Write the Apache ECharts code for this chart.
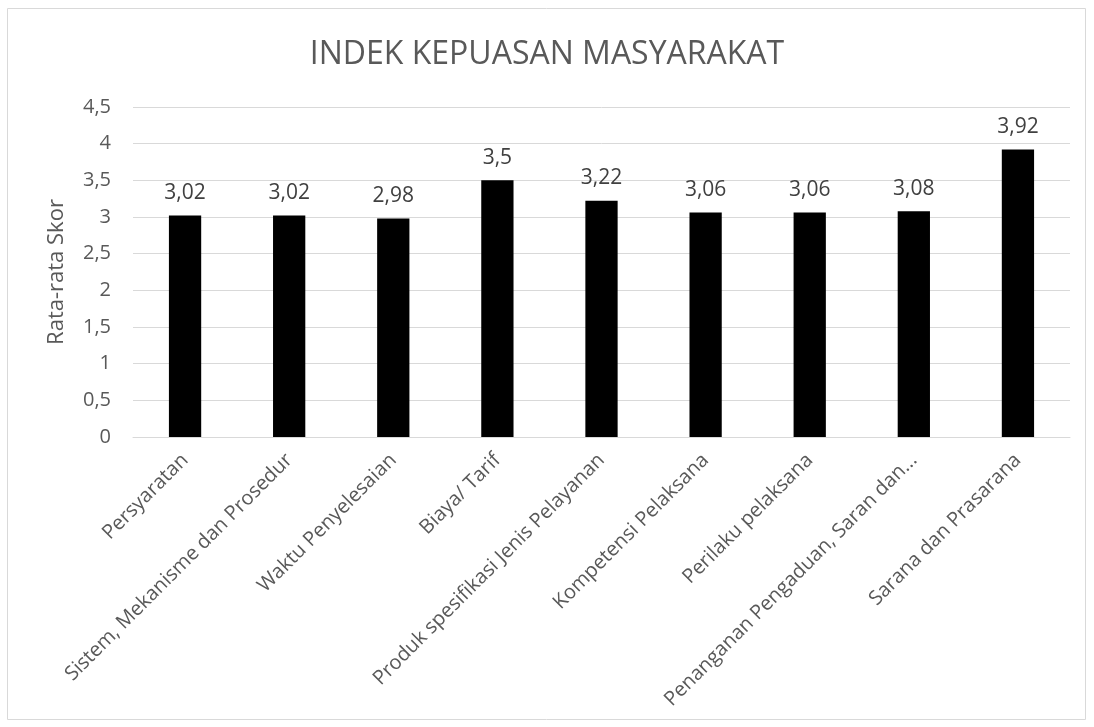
<!DOCTYPE html>
<html>
<head>
<meta charset="utf-8">
<script src="https://cdn.jsdelivr.net/npm/echarts@6/dist/echarts.min.js"></script>
<style>
  html, body { margin: 0; padding: 0; background: #fff; }
  #grafico_ikm { width: 1094px; height: 727px; }
</style>
</head>
<body>
<div id="grafico_ikm"></div>
<script>
var kategori = [
  "Persyaratan",
  "Sistem, Mekanisme dan Prosedur",
  "Waktu Penyelesaian",
  "Biaya/ Tarif",
  "Produk spesifikasi Jenis Pelayanan",
  "Kompetensi Pelaksana",
  "Perilaku pelaksana",
  "Penanganan Pengaduan, Saran dan...",
  "Sarana dan Prasarana"
];
var skor = [3.02, 3.02, 2.98, 3.5, 3.22, 3.06, 3.06, 3.08, 3.92];

var fuente = "'Open Sans', 'Noto Sans', sans-serif";
var koma = function (v) { return String(v).replace(".", ","); };

var grafico = echarts.init(document.querySelector("#grafico_ikm"));
grafico.setOption({
  animation: false,
  textStyle: { fontFamily: fuente },
  graphic: [{
    type: "rect",
    shape: { x: 7.5, y: 8.5, width: 1078, height: 711 },
    style: { fill: "none", stroke: "#d9d9d9", lineWidth: 1 },
    silent: true
  }],
  title: {
    text: "INDEK KEPUASAN MASYARAKAT",
    left: "center",
    top: 34,
    textStyle: { fontSize: 32, fontWeight: "normal", color: "#595959", fontFamily: fuente }
  },
  grid: { left: 133, right: 24, top: 107, bottom: 290, containLabel: false },
  xAxis: {
    type: "category",
    data: kategori,
    axisTick: { show: false },
    axisLine: { lineStyle: { color: "#d9d9d9", width: 1 } },
    axisLabel: {
      rotate: 45,
      interval: 0,
      margin: 20,
      fontSize: 20,
      color: "#595959",
      fontFamily: fuente
    }
  },
  yAxis: {
    type: "value",
    min: 0,
    max: 4.5,
    interval: 0.5,
    name: "Rata-rata Skor",
    nameLocation: "middle",
    nameGap: 65,
    nameTextStyle: { fontSize: 22, color: "#595959", fontFamily: fuente },
    axisLine: { show: false },
    axisTick: { show: false },
    axisLabel: { fontSize: 20, color: "#595959", margin: 22, formatter: koma, fontFamily: fuente },
    splitLine: { lineStyle: { color: "#d9d9d9", width: 1 } }
  },
  series: [{
    name: "Rata-rata Skor",
    type: "bar",
    data: skor,
    barWidth: "31%",
    itemStyle: { color: "#000000" },
    label: {
      show: true,
      position: "top",
      distance: 12,
      fontSize: 21,
      color: "#404040",
      fontFamily: fuente,
      formatter: function (p) { return koma(p.value); }
    }
  }]
});
</script>
</body>
</html>
